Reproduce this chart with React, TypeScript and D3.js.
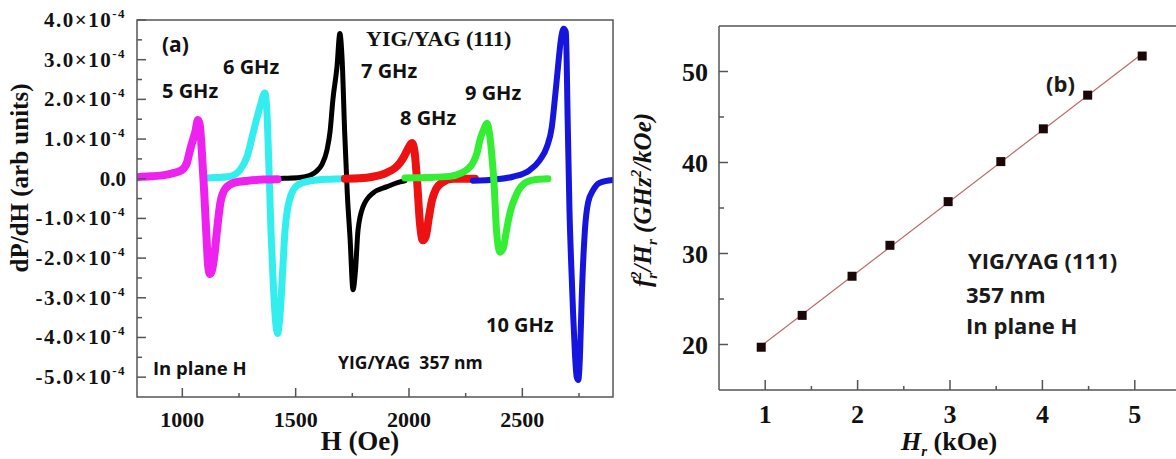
import React from 'react';
import * as d3 from 'd3';

// panel (a): dP/dH spectra, H in Oe, signal in units of 1e-4
const field5 = [800, 860, 920, 960, 998, 1020, 1034, 1048, 1058, 1069, 1077, 1087, 1097, 1106, 1114, 1122, 1131, 1142, 1153, 1168, 1190, 1230, 1290, 1360, 1420];
const signal5 = [0.04, 0.06, 0.09, 0.14, 0.22, 0.4, 0.72, 1.0, 1.2, 1.48, 1.35, 0.6, -0.4, -1.4, -2.2, -2.4, -2.3, -1.9, -1.3, -0.6, -0.25, -0.1, -0.05, -0.02, -0.01];

const field6 = [1100, 1150, 1200, 1230, 1254, 1285, 1312, 1342, 1364, 1373, 1382, 1391, 1400, 1410, 1420, 1430, 1442, 1453, 1466, 1480, 1500, 1530, 1594, 1650, 1708];
const signal6 = [0.02, 0.03, 0.05, 0.1, 0.22, 0.55, 1.15, 1.8, 2.16, 1.7, 0.3, -1.3, -2.5, -3.5, -3.9, -3.5, -2.4, -1.3, -0.7, -0.4, -0.2, -0.1, -0.03, -0.01, 0];

const field7 = [1387, 1450, 1519, 1560, 1590, 1615, 1638, 1652, 1664, 1682, 1695, 1705, 1716, 1728, 1740, 1753, 1764, 1775, 1797, 1841, 1903, 1960, 1982];
const signal7 = [0, 0.01, 0.03, 0.08, 0.18, 0.35, 0.72, 1.2, 1.98, 2.8, 3.66, 3.0, 1.2, -0.4, -1.5, -2.8, -2.3, -1.3, -0.71, -0.36, -0.2, -0.08, -0.05];

const field8 = [1717, 1780, 1840, 1900, 1940, 1960, 1980, 1995, 2013, 2024, 2035, 2048, 2061, 2074, 2087, 2101, 2120, 2145, 2194, 2240, 2291];
const signal8 = [0, 0.01, 0.05, 0.15, 0.28, 0.4, 0.58, 0.75, 0.9, 0.7, 0.0, -1.1, -1.55, -1.45, -1.0, -0.55, -0.25, -0.1, 0, 0, 0];

const field9 = [1982, 2080, 2180, 2230, 2260, 2282, 2300, 2313, 2330, 2344, 2356, 2366, 2375, 2386, 2401, 2416, 2430, 2445, 2476, 2520, 2560, 2613];
const signal9 = [0.02, 0.03, 0.06, 0.14, 0.25, 0.4, 0.65, 0.98, 1.25, 1.4, 1.1, 0.55, -0.1, -1.3, -1.85, -1.75, -1.3, -0.87, -0.37, -0.08, -0.02, 0];

const field10 = [2282, 2380, 2458, 2533, 2577, 2608, 2630, 2643, 2657, 2670, 2682, 2692, 2700, 2708, 2716, 2724, 2732, 2740, 2747, 2754, 2762, 2776, 2790, 2811, 2842, 2899];
const signal10 = [-0.05, -0.02, 0.05, 0.22, 0.47, 0.8, 1.3, 1.98, 2.8, 3.5, 3.78, 3.7, 1.5, -0.8, -2.2, -3.4, -4.4, -5.0, -5.07, -4.5, -3.0, -1.3, -0.6, -0.3, -0.1, -0.03];

const yTicksA = [-5, -4, -3, -2, -1, 0, 1, 2, 3, 4];
const xTicksA = [1000, 1500, 2000, 2500];

// panel (b): f_r^2/H_r vs H_r
const hrKOe = [0.957, 1.4, 1.94, 2.35, 2.98, 3.55, 4.01, 4.49, 5.08];
const f2OverHr = [19.7, 23.2, 27.5, 30.9, 35.7, 40.1, 43.7, 47.4, 51.7];

const yTicksB = [20, 30, 40, 50];
const xTicksB = [1, 2, 3, 4, 5];

// draw order matters: later ones sit on top
const spectra = [
  { H: field7, v: signal7, color: '#000000', w: 5 },
  { H: field6, v: signal6, color: '#33eeee', w: 7 },
  { H: field5, v: signal5, color: '#ee22ee', w: 8 },
  { H: field8, v: signal8, color: '#ee1111', w: 8 },
  { H: field10, v: signal10, color: '#1515dd', w: 6 },
  { H: field9, v: signal9, color: '#33ee33', w: 7 },
];

const serif = '"Liberation Serif", "Times New Roman", serif';
const sans = '"Open Sans", "Noto Sans", sans-serif';

export default function App() {
  const W = 1176;
  const Hh = 459;

  const xA = d3.scaleLinear().domain([800, 2900]).range([137, 613]);
  const yA = d3.scaleLinear().domain([-5.5, 4]).range([397, 20]);
  const xB = d3.scaleLinear().domain([0.5, 5.5]).range([719, 1181]);
  const yB = d3.scaleLinear().domain([15, 55]).range([390, 26]);

  const line = d3
    .line<[number, number]>()
    .x((d) => xA(d[0]))
    .y((d) => yA(d[1]))
    .curve(d3.curveMonotoneX);

  // least squares fit for panel (b)
  const mx = d3.mean(hrKOe) as number;
  const my = d3.mean(f2OverHr) as number;
  const slope =
    d3.sum(hrKOe.map((x, i) => (x - mx) * (f2OverHr[i] - my))) /
    d3.sum(hrKOe.map((x) => (x - mx) * (x - mx)));
  const icpt = my - slope * mx;
  const fitX0 = hrKOe[0];
  const fitX1 = hrKOe[hrKOe.length - 1];

  const frame = '#555';
  const minorYA = d3.range(-5, 4).map((v) => v + 0.5);
  const minorXA = d3.range(1250, 2900, 500);
  const minorYB = [25, 35, 45];
  const minorXB = [1.5, 2.5, 3.5, 4.5];

  const yLabelA = (v: number) => {
    if (v === 0) return <tspan>0.0</tspan>;
    return (
      <>
        <tspan>{(v < 0 ? '-' : '') + Math.abs(v).toFixed(1) + '×10'}</tspan>
        <tspan dy={-9} fontSize={13}>-4</tspan>
      </>
    );
  };

  const gLabel = { fontFamily: sans, fontWeight: 700, fontSize: 20, fill: '#111' } as const;
  const bLabel = { fontFamily: sans, fontWeight: 700, fontSize: 22, fill: '#1a1a1a' } as const;

  return (
    <svg width={W} height={Hh} style={{ position: 'absolute', left: 0, top: 0, background: '#fff' }}>
      {/* ---------- panel (a) ---------- */}
      <defs>
        <clipPath id="clipA">
          <rect x={137} y={14} width={476} height={383} />
        </clipPath>
      </defs>
      <g clipPath="url(#clipA)">
        {spectra.map((s, i) => (
          <path
            key={i}
            d={line(s.H.map((h, j) => [h, s.v[j]] as [number, number])) || ''}
            fill="none"
            stroke={s.color}
            strokeWidth={s.w}
            strokeLinejoin="round"
            strokeLinecap="round"
          />
        ))}
      </g>
      <rect x={137} y={20} width={476} height={377} fill="none" stroke={frame} strokeWidth={1.5} />
      {yTicksA.map((t) => (
        <line key={'ya' + t} x1={137} x2={146} y1={yA(t)} y2={yA(t)} stroke={frame} strokeWidth={1.5} />
      ))}
      {minorYA.map((t) => (
        <line key={'yam' + t} x1={137} x2={142} y1={yA(t)} y2={yA(t)} stroke={frame} strokeWidth={1.5} />
      ))}
      {xTicksA.map((t) => (
        <line key={'xa' + t} x1={xA(t)} x2={xA(t)} y1={397} y2={388} stroke={frame} strokeWidth={1.5} />
      ))}
      {minorXA.map((t) => (
        <line key={'xam' + t} x1={xA(t)} x2={xA(t)} y1={397} y2={393} stroke={frame} strokeWidth={1.5} />
      ))}
      {yTicksA.map((t) => (
        <text
          key={'yal' + t}
          x={126}
          y={yA(t) + 7}
          textAnchor="end"
          fontFamily={serif}
          fontWeight="bold"
          fontSize={21}
          letterSpacing={t === 0 ? 0 : 1.5}
          fill="#111"
        >
          {yLabelA(t)}
        </text>
      ))}
      {xTicksA.map((t) => (
        <text key={'xal' + t} x={xA(t)} y={427} textAnchor="middle" fontFamily={serif} fontWeight="bold" fontSize={22} fill="#111">
          {t}
        </text>
      ))}
      <text x={360} y={450} textAnchor="middle" fontFamily={serif} fontWeight="bold" fontSize={27} fill="#111">
        H (Oe)
      </text>
      <text
        transform="translate(28,178) rotate(-90)"
        textAnchor="middle"
        fontFamily={serif}
        fontWeight="bold"
        fontSize={25}
        fill="#111"
      >
        dP/dH (arb units)
      </text>

      <text x={162} y={52} {...gLabel} fontSize={21}>(a)</text>
      <text x={162} y={98} {...gLabel}>5 GHz</text>
      <text x={223} y={74} {...gLabel}>6 GHz</text>
      <text x={361} y={78} {...gLabel}>7 GHz</text>
      <text x={400} y={125} {...gLabel}>8 GHz</text>
      <text x={465} y={100} {...gLabel}>9 GHz</text>
      <text x={486} y={332} {...gLabel}>10 GHz</text>
      <text x={366} y={46} fontFamily={serif} fontWeight="bold" fontSize={22} fill="#111">
        YIG/YAG (111)
      </text>
      <text x={153} y={375} {...gLabel} fontSize={18.5}>In plane H</text>
      <text x={338} y={369} {...gLabel} fontSize={17.5} xmlSpace="preserve">
        YIG/YAG  357 nm
      </text>

      {/* ---------- panel (b) ---------- */}
      <line x1={719} x2={1181} y1={26} y2={26} stroke={frame} strokeWidth={1.5} />
      <line x1={719} x2={1181} y1={390} y2={390} stroke={frame} strokeWidth={1.5} />
      <line x1={719} x2={719} y1={26} y2={390} stroke={frame} strokeWidth={1.5} />
      {yTicksB.map((t) => (
        <line key={'yb' + t} x1={719} x2={728} y1={yB(t)} y2={yB(t)} stroke={frame} strokeWidth={1.5} />
      ))}
      {minorYB.map((t) => (
        <line key={'ybm' + t} x1={719} x2={724} y1={yB(t)} y2={yB(t)} stroke={frame} strokeWidth={1.5} />
      ))}
      {xTicksB.map((t) => (
        <line key={'xb' + t} x1={xB(t)} x2={xB(t)} y1={390} y2={380} stroke={frame} strokeWidth={1.5} />
      ))}
      {minorXB.map((t) => (
        <line key={'xbm' + t} x1={xB(t)} x2={xB(t)} y1={390} y2={386} stroke={frame} strokeWidth={1.5} />
      ))}
      {yTicksB.map((t) => (
        <text key={'ybl' + t} x={708} y={yB(t) + 9} textAnchor="end" fontFamily={serif} fontWeight="bold" fontSize={26} fill="#111">
          {t}
        </text>
      ))}
      {xTicksB.map((t) => (
        <text key={'xbl' + t} x={xB(t)} y={423} textAnchor="middle" fontFamily={serif} fontWeight="bold" fontSize={26} fill="#111">
          {t}
        </text>
      ))}

      <line
        x1={xB(fitX0)}
        y1={yB(icpt + slope * fitX0)}
        x2={xB(fitX1)}
        y2={yB(icpt + slope * fitX1)}
        stroke="#b86a6a"
        strokeWidth={1.2}
      />
      {hrKOe.map((x, i) => (
        <rect
          key={'pt' + i}
          x={xB(x) - 4.5}
          y={yB(f2OverHr[i]) - 4.5}
          width={9}
          height={9}
          fill="#1a0808"
        />
      ))}

      <text x={949} y={450} textAnchor="middle" fontFamily={serif} fontWeight="bold" fontSize={26} fill="#111">
        <tspan fontStyle="italic">H</tspan>
        <tspan fontStyle="italic" fontSize={15} dy={6}>r</tspan>
        <tspan dy={-6}> (kOe)</tspan>
      </text>
      <text
        transform="translate(651,200) rotate(-90)"
        textAnchor="middle"
        fontFamily={serif}
        fontWeight="bold"
        fontStyle="italic"
        fontSize={25}
        fill="#111"
      >
        <tspan>f</tspan>
        <tspan fontSize={15} dy={6}>r</tspan>
        <tspan fontSize={15} dy={-16} dx={-6}>2</tspan>
        <tspan dy={10}>/H</tspan>
        <tspan fontSize={15} dy={6}>r</tspan>
        <tspan dy={-6}> (GHz</tspan>
        <tspan fontSize={15} dy={-10}>2</tspan>
        <tspan dy={10}>/kOe)</tspan>
      </text>

      <text x={1046} y={92} {...bLabel}>(b)</text>
      <text x={968} y={269} {...bLabel}>YIG/YAG (111)</text>
      <text x={966} y={303} {...bLabel}>357 nm</text>
      <text x={966} y={334} {...bLabel}>In plane H</text>
    </svg>
  );
}
